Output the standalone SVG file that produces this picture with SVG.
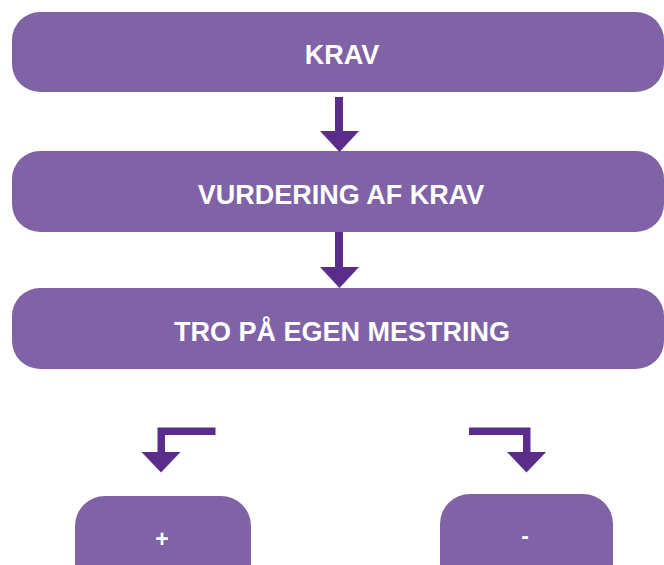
<svg xmlns="http://www.w3.org/2000/svg" width="664" height="565" viewBox="0 0 664 565">
<style>
.box{fill:#8062A7}
.lbl{fill:#ffffff;font-family:"Liberation Sans",Arial,sans-serif;font-weight:bold;font-size:27px;text-anchor:middle}
.sm{font-size:23px}
.arr{fill:#5A2D8A}
</style>
<rect width="664" height="565" fill="#ffffff"/>
<g id="node-krav"><rect class="box" x="12" y="12" width="652" height="80" rx="28" ry="28"/><text class="lbl" x="342" y="64">KRAV</text></g>
<g id="node-vurdering"><rect class="box" x="12" y="151" width="652" height="81" rx="28" ry="28"/><text class="lbl" x="341" y="204">VURDERING AF KRAV</text></g>
<g id="node-tro"><rect class="box" x="12" y="288" width="652" height="81" rx="28" ry="28"/><text class="lbl" x="342" y="341">TRO PÅ EGEN MESTRING</text></g>
<g id="node-plus"><rect class="box" x="75" y="496" width="176" height="100" rx="30" ry="30"/><text class="lbl sm" x="162" y="547">+</text></g>
<g id="node-minus"><rect class="box" x="440" y="494" width="173" height="100" rx="30" ry="30"/><text class="lbl sm" x="525" y="544">-</text></g>
<g id="connectors">
<polygon class="arr" points="335,97 343,97 343,131 359,131 339.5,152 320,131 335,131"/>
<polygon class="arr" points="335,232 343,232 343,267 359,267 339.5,288 320,267 335,267"/>
<polygon class="arr" points="215.5,427.5 215.5,435 165,435 165,452 180.5,452 161,472.5 141.5,452 157.5,452 157.5,427.5"/>
<polygon class="arr" points="469,427.5 469,435 523,435 523,452 507,452 526.5,472.5 546,452 530.5,452 530.5,427.5"/>
</g>
</svg>
